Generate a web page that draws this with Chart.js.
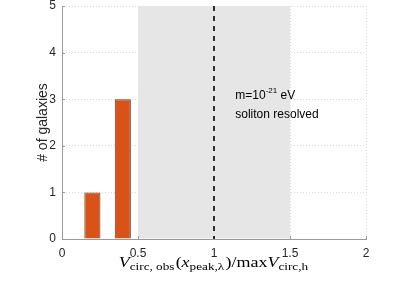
<!DOCTYPE html>
<html>
<head>
<meta charset="utf-8">
<script src="https://cdn.jsdelivr.net/npm/chart.js@4"></script>
<style>
  html, body { margin: 0; padding: 0; background: #fff; }
  #wrap { width: 415px; height: 287px; }
</style>
</head>
<body>
<div id="wrap"><canvas id="chart"></canvas></div>
<script>
// histogram bins (bin centre) and counts
const binCenters = [0.2, 0.4];
const galaxyCounts = [1, 3];
const xTicks = [0, 0.5, 1, 1.5, 2];
const yTicks = [0, 1, 2, 3, 4, 5];
// shaded band and marker line, in data units
const shadedRange = [0.5, 1.5];
const markerX = 1;
// annotation text anchors, in data units
const noteLines = [
  { x: 1.14, y: 3.07, parts: [['m=10', 12, 0], ['-21', 8, -5], [' eV', 12, 0]] },
  { x: 1.14, y: 2.66, parts: [['soliton resolved', 12, 0]] },
];

const SANS = '"Liberation Sans", Arial, Helvetica, sans-serif';
const SERIF = '"Liberation Serif", "Times New Roman", serif';
const TEXT = '#262626';
const AXIS = '#9a9a9a';

const bandPlugin = {
  id: 'band',
  beforeDatasetsDraw(chart) {
    const { ctx, chartArea, scales: { x } } = chart;
    const x0 = x.getPixelForValue(shadedRange[0]);
    const x1 = x.getPixelForValue(shadedRange[1]);
    ctx.save();
    ctx.fillStyle = '#e6e6e6';
    ctx.fillRect(x0, chartArea.top, x1 - x0, chartArea.bottom - chartArea.top - 0.5);
    ctx.restore();
  },
  afterDatasetsDraw(chart) {
    const { ctx, chartArea, scales: { x, y } } = chart;
    ctx.save();
    // inward tick marks
    ctx.strokeStyle = AXIS;
    ctx.lineWidth = 1;
    ctx.beginPath();
    xTicks.forEach(v => {
      const px = Math.round(x.getPixelForValue(v)) + 0.5;
      ctx.moveTo(px, chartArea.bottom);
      ctx.lineTo(px, chartArea.bottom - 3);
    });
    yTicks.forEach(v => {
      const py = Math.round(y.getPixelForValue(v)) + 0.5;
      ctx.moveTo(chartArea.left, py);
      ctx.lineTo(chartArea.left + 3, py);
    });
    ctx.stroke();

    // dashed marker
    const mx = x.getPixelForValue(markerX);
    ctx.strokeStyle = '#000';
    ctx.lineWidth = 1.6;
    ctx.setLineDash([5, 5]);
    ctx.beginPath();
    ctx.moveTo(mx, chartArea.top);
    ctx.lineTo(mx, chartArea.bottom);
    ctx.stroke();
    ctx.setLineDash([]);

    // annotation
    ctx.fillStyle = '#000';
    ctx.textBaseline = 'middle';
    noteLines.forEach(line => {
      let px = x.getPixelForValue(line.x);
      const py = y.getPixelForValue(line.y);
      line.parts.forEach(([t, size, dy]) => {
        ctx.font = size + 'px ' + SANS;
        ctx.fillText(t, px, py + dy);
        px += ctx.measureText(t).width;
      });
    });
    ctx.restore();
  },
  afterDraw(chart) {
    // x-axis title, TeX-like (stretched a bit, Computer Modern is wide)
    const { ctx, chartArea } = chart;
    const stretch = 1.2;
    const parts = [
      ['V', 'italic 15px', 0],
      ['circ, obs', '11px', 3],
      ['(', '15px', 0],
      ['x', 'italic 15px', 0],
      ['peak,\u03bb', '11px', 3],
      [')/max', '15px', 0],
      ['V', 'italic 15px', 0],
      ['circ,h', '11px', 3],
    ];
    ctx.save();
    ctx.fillStyle = '#000';
    ctx.textBaseline = 'alphabetic';
    let total = 0;
    parts.forEach(p => { ctx.font = p[1] + ' ' + SERIF; total += ctx.measureText(p[0]).width + (p[2] ? 1 : 0); });
    const cx = (chartArea.left + chartArea.right) / 2;
    ctx.translate(cx, chartArea.bottom + 28);
    ctx.scale(stretch, 1);
    let px = -total / 2;
    parts.forEach(p => {
      ctx.font = p[1] + ' ' + SERIF;
      ctx.fillText(p[0], px, p[2]);
      px += ctx.measureText(p[0]).width + (p[2] ? 1 : 0);
    });
    ctx.restore();
  }
};

new Chart(document.getElementById('chart'), {
  type: 'bar',
  data: {
    datasets: [{
      data: binCenters.map((c, i) => ({ x: c, y: galaxyCounts[i] })),
      backgroundColor: '#d95319',
      borderColor: '#6e3a22',
      borderWidth: 1,
      barPercentage: 0.53,
      categoryPercentage: 1,
    }]
  },
  options: {
    responsive: true,
    maintainAspectRatio: false,
    animation: false,
    layout: { padding: { top: 6, right: 49, left: 0, bottom: 0 } },
    plugins: { legend: { display: false }, tooltip: { enabled: false } },
    scales: {
      x: {
        type: 'linear',
        min: 0, max: 2,
        offset: false,
        afterBuildTicks: s => { s.ticks = xTicks.map(v => ({ value: v })); },
        afterFit: s => { s.height = 48; s.paddingLeft = 0; s.paddingRight = 0; },
        ticks: { color: TEXT, font: { family: SANS, size: 12 }, padding: 7, maxRotation: 0, callback: v => String(v) },
        grid: { color: '#dcdcdc', drawTicks: false, offset: false },
        border: { color: AXIS, dash: [1, 2] },
      },
      y: {
        min: 0, max: 5,
        afterBuildTicks: s => { s.ticks = yTicks.map(v => ({ value: v })); },
        afterFit: s => { s.width = 62; s.paddingTop = 0; s.paddingBottom = 0; },
        ticks: { color: TEXT, font: { family: SANS, size: 12 }, padding: 6, callback: v => String(v) },
        grid: { color: '#dcdcdc', drawTicks: false },
        border: { color: AXIS, dash: [1, 2] },
        title: { display: true, text: '# of galaxies', color: TEXT, font: { family: SANS, size: 14 }, padding: { top: 35, bottom: 0 } },
      }
    }
  },
  plugins: [bandPlugin]
});
</script>
</body>
</html>
